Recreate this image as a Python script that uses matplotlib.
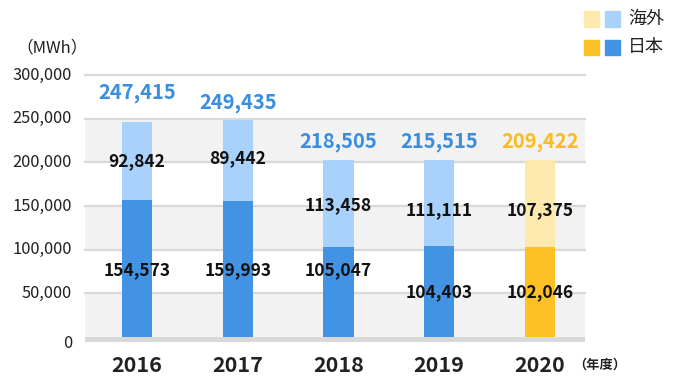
import matplotlib
matplotlib.use("Agg")
import matplotlib.pyplot as plt
from matplotlib.patches import Rectangle
import matplotlib.transforms as mtransforms

plt.rcParams['font.family'] = ['Noto Sans CJK JP', 'DejaVu Sans']

years = ['2016', '2017', '2018', '2019', '2020']
# values printed on the chart
japan_labels = [154573, 159993, 105047, 104403, 102046]
overseas_labels = [92842, 89442, 113458, 111111, 107375]
total_labels = [247415, 249435, 218505, 215515, 209422]
# bar heights as drawn in the picture
japan_bar = [156500, 155500, 103500, 104000, 103500]
overseas_bar = [90000, 93500, 99000, 98500, 99000]
yticks = [0, 50000, 100000, 150000, 200000, 250000, 300000]

# label positions (data y) as placed in the picture
total_label_y = [280500, 268000, 223500, 223500, 223500]
overseas_label_y = [201000, 205000, 151000, 145000, 145000]
japan_label_y = [77000, 77000, 77000, 51000, 51000]

c_jp = '#4393e4'
c_os = '#a8d1fb'
c_jp20 = '#fdc126'
c_os20 = '#fde8ad'
c_total = '#3a8ee0'
c_total20 = '#fbbd1e'
grid_c = '#d9d9d9'
band_c = '#f2f2f2'

fig = plt.figure(figsize=(6.74, 3.8), dpi=100)
ax = fig.add_axes([85/674, 0.0995, 500/674, 0.806 - 0.0995])
ax.set_xlim(-0.516, 4.447)
ax.set_ylim(-6000, 301500)

for lo in (0, 100000, 200000):
    ax.axhspan(lo, lo + 50000, color=band_c, zorder=0, lw=0)
for t in yticks[1:]:
    ax.axhline(t, color=grid_c, lw=1.6, zorder=1, clip_on=False)
ax.axhspan(-6000, 0, color=grid_c, zorder=1, lw=0)

x = list(range(len(years)))
jc = [c_jp20 if y == '2020' else c_jp for y in years]
oc = [c_os20 if y == '2020' else c_os for y in years]
ax.bar(x, japan_bar, width=0.3, color=jc, zorder=2)
ax.bar(x, overseas_bar, bottom=japan_bar, width=0.3, color=oc, zorder=2)

for i in x:
    tc = c_total20 if years[i] == '2020' else c_total
    ax.text(i, total_label_y[i], f"{total_labels[i]:,}", ha='center', va='center',
            fontsize=14.5, fontweight='bold', color=tc, zorder=3)
    ax.text(i, overseas_label_y[i], f"{overseas_labels[i]:,}", ha='center', va='center',
            fontsize=12.5, fontweight='bold', color='#111111', zorder=3)
    ax.text(i, japan_label_y[i], f"{japan_labels[i]:,}", ha='center', va='center',
            fontsize=12.5, fontweight='bold', color='#111111', zorder=3)

for spine in ax.spines.values():
    spine.set_visible(False)
ax.set_xticks([])
ax.set_yticks([])

# y tick labels
off = mtransforms.offset_copy(ax.get_yaxis_transform(), fig=fig, x=-13, y=0, units='dots')
for t in yticks:
    yy = -7500 if t == 0 else t
    ax.text(0, yy, f"{t:,}", transform=off, ha='right', va='center',
            fontsize=11.8, color='#222222')

# x tick labels
xt = ax.get_xaxis_transform()
for i in x:
    ax.text(i, -0.088, years[i], transform=xt, ha='center', va='center',
            fontsize=15.5, fontweight='bold', color='#222222')

fig.text(52/674, 1 - 48/380, '（MWh）', ha='center', va='center', fontsize=12, color='#222222')
fig.text(600/674, 1 - 365/380, '（年度）', ha='center', va='center', fontsize=9.5,
         fontweight='bold', color='#222222')

# legend
sq = 15
for row, (lab, ca, cb) in enumerate([('海外', c_os20, c_os), ('日本', c_jp20, c_jp)]):
    yc = 19 + row * 28
    for xs, c in ((584, ca), (605, cb)):
        fig.patches.append(Rectangle((xs/674, 1 - (yc + sq/2)/380), sq/674, sq/380,
                                     transform=fig.transFigure, color=c, figure=fig))
    fig.text(628/674, 1 - yc/380, lab, ha='left', va='center', fontsize=13, color='#222222')

fig.savefig('out.png', dpi=100)
